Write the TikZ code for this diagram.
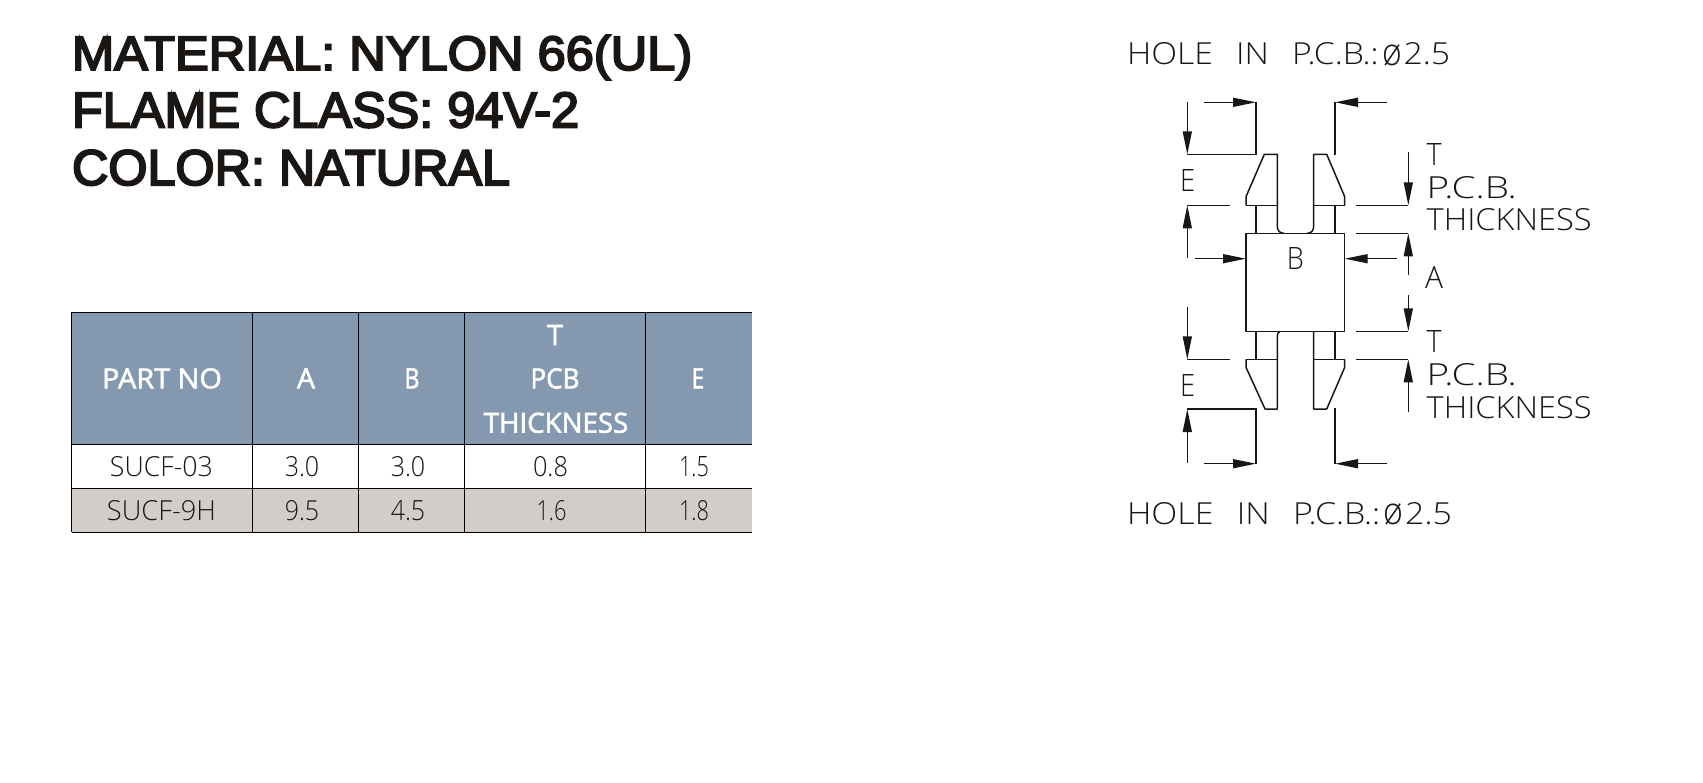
\documentclass[tikz,border=0pt]{standalone}
\usepackage{fontspec}
\usepackage{graphicx}
\usetikzlibrary{arrows.meta}
\setmainfont{Liberation Sans}
\newfontfamily\titlefont[FakeBold=4]{Liberation Sans}
\newfontfamily\tablefont[FakeBold=2]{Open Sans}
\newfontfamily\tablelight{Open Sans Light}
\newfontfamily\cadfont{Open Sans Light}
\definecolor{ink}{HTML}{1A1614}
\definecolor{headblue}{HTML}{8499B0}
\definecolor{rowgrey}{HTML}{D3CDC9}
\newcommand{\fit}[3]{\resizebox{#1pt}{#2pt}{#3}}
\newcommand{\holetext}{HOLE\ \ \,IN\ \ \,P.C.B.:\kern1pt\raisebox{-0.3pt}{\scalebox{1}[1.25]{ø}}\kern0.5pt 2.5}
\tikzset{
 x=1pt,y=-1pt,
 part/.style={draw=ink,line width=1.5pt,line join=round},
 dimline/.style={draw=ink,line width=1.4pt},
 dimarrow/.style={draw=ink,line width=1.4pt,-{Triangle[length=23pt,width=9pt,fill=ink]}},
 txt/.style={inner sep=0pt,outer sep=0pt,text=ink},
 lbl/.style={txt,anchor=base west,font=\cadfont},
 clbl/.style={txt,anchor=base,font=\cadfont},
 ttl/.style={txt,anchor=base west,font=\titlefont},
 cell/.style={draw=black,line width=1pt},
 hd/.style={inner sep=0pt,outer sep=0pt,anchor=base,text=white,font=\tablefont},
 dat/.style={inner sep=0pt,outer sep=0pt,anchor=base,text=ink,font=\tablelight},
}
\begin{document}
\begin{tikzpicture}
\useasboundingbox[fill=white] (0,0) rectangle (1703,782);
% titles
\node[ttl] (t1) at (72,70) {\fit{620}{35}{MATERIAL: NYLON 66(UL)}};
\node[ttl] (t2) at (72,127.3) {\fit{507}{35}{FLAME CLASS: 94V-2}};
\node[ttl] (t3) at (72,185) {\fit{438}{35}{COLOR: NATURAL}};
% table
\fill[headblue] (71.6,312.3) rectangle (751.6,444.3);
\fill[rowgrey] (71.6,488.3) rectangle (751.6,532.3);
\draw[cell] (71.6,312.3) -- (751.6,312.3) (71.6,444.3) -- (751.6,444.3) (71.6,488.3) -- (751.6,488.3) (71.6,532.3) -- (751.6,532.3);
\draw[cell] (71.6,312.3) -- (71.6,532.3) (252.5,312.3) -- (252.5,532.3) (358.5,312.3) -- (358.5,532.3) (464.6,312.3) -- (464.6,532.3) (645.5,312.3) -- (645.5,532.3);
\node[hd] (hpart) at (162,388.3) {\fit{120}{20}{PART NO}};
\node[hd] (ha) at (306,388.3) {\fit{18}{20}{A}};
\node[hd] (hb) at (412,388.3) {\fit{15}{20}{B}};
\node[hd] (ht) at (555,345) {\fit{16}{20}{T}};
\node[hd] (hp) at (555,388.3) {\fit{49}{20}{PCB}};
\node[hd] (hk) at (556,432.7) {\fit{144.5}{20}{THICKNESS}};
\node[hd] (he) at (698,388.3) {\fit{12.5}{20}{E}};
\node[dat] (a1) at (161.5,476.7) {\fit{103}{20}{SUCF-03}};
\node[dat] (a2) at (302,476.7) {\fit{34.5}{20}{3.0}};
\node[dat] (a3) at (408,476.7) {\fit{34.5}{20}{3.0}};
\node[dat] (a4) at (550.5,476.7) {\fit{35}{20}{0.8}};
\node[dat] (a5) at (694,476.7) {\fit{30}{20}{1.5}};
\node[dat] (b1) at (161.5,520.7) {\fit{109}{20}{SUCF-9H}};
\node[dat] (b2) at (302,520.7) {\fit{34.5}{20}{9.5}};
\node[dat] (b3) at (408,520.7) {\fit{34.5}{20}{4.5}};
\node[dat] (b4) at (551.5,520.7) {\fit{30}{20}{1.6}};
\node[dat] (b5) at (694,520.7) {\fit{30}{20}{1.8}};
% part
\draw[part] (1246,233.3) rectangle (1344.7,331.3);
\draw[part] (1246,205.3) -- (1246,196.7) -- (1264.3,154.3) -- (1277.3,154.3) -- (1277.3,226) .. controls (1277.3,231) and (1280,233.3) .. (1284,233.3);
\draw[part] (1344.7,205.3) -- (1344.7,196.7) -- (1326.7,154.3) -- (1313.7,154.3) -- (1313.7,226) .. controls (1313.7,231) and (1311,233.3) .. (1307,233.3);
\draw[part] (1246,205.3) -- (1277.3,205.3) (1313.7,205.3) -- (1344.7,205.3);
\draw[part] (1256,205.3) -- (1256,233.3) (1335,205.3) -- (1335,233.3);
\draw[part] (1246,359.3) -- (1246,367.3) -- (1265,409) -- (1277.3,409) -- (1277.3,338) .. controls (1277.3,334) and (1278,332) .. (1280,331.3);
\draw[part] (1344.7,359.3) -- (1344.7,367.3) -- (1326.7,409) -- (1313.7,409) -- (1313.7,331.3);
\draw[part] (1246,359.3) -- (1277.3,359.3) (1313.7,359.3) -- (1344.7,359.3);
\draw[part] (1256,331.3) -- (1256,359.3) (1335,331.3) -- (1335,359.3);
% dimension lines, top
\draw[dimarrow] (1187.3,102.3) -- (1187.3,154.3);
\draw[dimline] (1187.3,154.3) -- (1256,154.3) -- (1256,102.3);
\draw[dimarrow] (1204,102.3) -- (1256,102.3);
\draw[dimline] (1335,155) -- (1335,102.3);
\draw[dimarrow] (1387.3,102.3) -- (1335,102.3);
\draw[dimline] (1187.3,205.3) -- (1230,205.3);
\draw[dimarrow] (1187.3,258) -- (1187.3,205.3);
\draw[dimarrow] (1194.7,258.7) -- (1246,258.7);
\draw[dimarrow] (1396.7,258.7) -- (1344.7,258.7);
\draw[dimarrow] (1408.3,152.3) -- (1408.3,205.3);
\draw[dimline] (1356,205.3) -- (1408.3,205.3);
\draw[dimline] (1356,233.3) -- (1408.3,233.3);
\draw[dimarrow] (1408.3,275) -- (1408.3,233.3);
% dimension lines, bottom
\draw[dimarrow] (1408.3,294.7) -- (1408.3,331.3);
\draw[dimline] (1356,331.3) -- (1408.3,331.3);
\draw[dimline] (1356,359.3) -- (1408.3,359.3);
\draw[dimarrow] (1408.3,411.7) -- (1408.3,359.3);
\draw[dimarrow] (1187.3,306.7) -- (1187.3,359.3);
\draw[dimline] (1187.3,359.3) -- (1230,359.3);
\draw[dimarrow] (1187.3,462.7) -- (1187.3,409);
\draw[dimline] (1187.3,409) -- (1256,409) -- (1256,463.7);
\draw[dimarrow] (1204,463.7) -- (1256,463.7);
\draw[dimline] (1335,408) -- (1335,463.7);
\draw[dimarrow] (1387.3,463.7) -- (1335,463.7);
% labels
\node[lbl] (h1) at (1127,64.3) {\fit{323}{22}{\holetext}};
\node[lbl] (h2) at (1127,524) {\fit{325}{22}{\holetext}};
\node[lbl] (e1) at (1180,191) {\fit{15}{22}{E}};
\node[lbl] (e2) at (1180,396) {\fit{15}{22}{E}};
\node[clbl] (b0) at (1295.3,269) {\fit{17}{22}{B}};
\node[clbl] (aa) at (1434,288.3) {\fit{18}{22}{A}};
\node[clbl] (t0) at (1434,165.7) {\fit{15}{22}{T}};
\node[lbl] (p1) at (1426.7,198.3) {\fit{90}{22}{P.C.B.}};
\node[lbl] (k1) at (1426.7,230.7) {\fit{165}{22}{THICKNESS}};
\node[clbl] (t4) at (1434,352.7) {\fit{15}{22}{T}};
\node[lbl] (p2) at (1426.7,385.7) {\fit{90}{22}{P.C.B.}};
\node[lbl] (k2) at (1426.7,418) {\fit{165}{22}{THICKNESS}};
\end{tikzpicture}
\end{document}
